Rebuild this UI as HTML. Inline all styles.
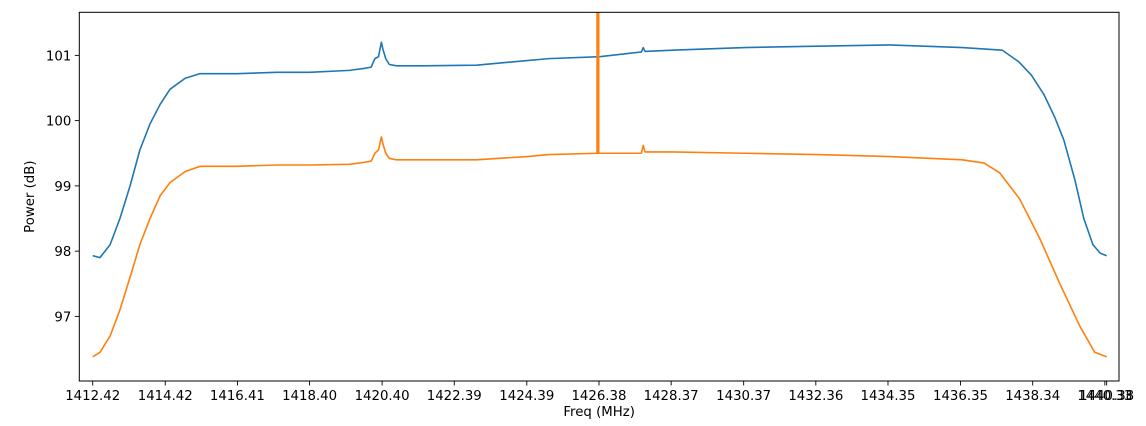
<!DOCTYPE html>
<html><head><meta charset="utf-8"><style>
body{margin:0;background:#fff;}
svg{display:block;font-family:"DejaVu Sans","Liberation Sans",sans-serif;}
</style></head><body>
<svg id="chart" width="1146" height="426" viewBox="0 0 1146 426">
<g id="plot"></g>
</svg>
<script>
const blueFreq=[1412.42,1412.62,1412.9,1413.17,1413.45,1413.72,1414.0,1414.28,1414.55,1414.97,1415.38,1416.4,1417.5,1418.4,1419.5,1419.9,1420.1,1420.2,1420.3,1420.38,1420.42,1420.5,1420.6,1420.8,1421.5,1423.0,1424.4,1425.0,1426.4,1427.5,1427.55,1427.6,1427.65,1428.4,1430.4,1432.4,1434.4,1436.4,1437.5,1437.96,1438.3,1438.65,1438.95,1439.2,1439.5,1439.75,1440.0,1440.2,1440.38];
const blueVals=[97.93,97.9,98.1,98.5,99.0,99.55,99.95,100.25,100.48,100.65,100.72,100.72,100.74,100.74,100.77,100.8,100.82,100.95,100.98,101.2,101.1,100.95,100.86,100.84,100.84,100.85,100.92,100.95,100.98,101.05,101.05,101.12,101.06,101.08,101.12,101.14,101.16,101.12,101.08,100.9,100.7,100.4,100.05,99.7,99.1,98.5,98.1,97.97,97.93];
const orangeFreq=[1412.42,1412.62,1412.9,1413.17,1413.45,1413.72,1414.0,1414.28,1414.55,1414.97,1415.38,1416.4,1417.5,1418.4,1419.5,1419.9,1420.1,1420.2,1420.3,1420.38,1420.42,1420.5,1420.6,1420.8,1421.5,1423.0,1424.4,1425.0,1426.35,1427.5,1427.55,1427.6,1427.65,1428.4,1430.4,1432.4,1434.4,1436.4,1437.0,1437.43,1437.98,1438.53,1439.09,1439.64,1440.05,1440.38];
const orangeVals=[96.38,96.45,96.7,97.1,97.6,98.1,98.5,98.85,99.05,99.22,99.3,99.3,99.32,99.32,99.33,99.36,99.38,99.5,99.55,99.75,99.65,99.5,99.42,99.4,99.4,99.4,99.45,99.48,99.5,99.5,99.5,99.62,99.52,99.52,99.5,99.48,99.45,99.4,99.35,99.2,98.8,98.2,97.5,96.85,96.45,96.38];
const spikeFreq=[1426.35];
const spikeLow=[99.5];
const spikeHigh=[102.5];
const xTickVals=[1412.42,1414.42,1416.41,1418.40,1420.40,1422.39,1424.39,1426.38,1428.37,1430.37,1432.36,1434.35,1436.35,1438.34,1440.33,1440.38];
const xTickLabels=["1412.42","1414.42","1416.41","1418.40","1420.40","1422.39","1424.39","1426.38","1428.37","1430.37","1432.36","1434.35","1436.35","1438.34","1440.33","1440.38"];
const yTickVals=[97,98,99,100,101];
const yTickLabels=["97","98","99","100","101"];

const L=79.3,R=1119,T=12.3,B=381;
const xMin=1412.05,xMax=1440.72,yMin=96.01,yMax=101.66;
const xs=v=>L+(v-xMin)/(xMax-xMin)*(R-L);
const ys=v=>B-(v-yMin)/(yMax-yMin)*(B-T);
const NS="http://www.w3.org/2000/svg";
const plot=document.getElementById('plot');
function mk(tag,attrs,parent){const e=document.createElementNS(NS,tag);for(const k in attrs)e.setAttribute(k,attrs[k]);(parent||plot).appendChild(e);return e;}

const defs=mk('defs',{});
const cp=mk('clipPath',{id:'clip'},defs);
mk('rect',{x:L,y:T,width:R-L,height:B-T},cp);
const g=mk('g',{'clip-path':'url(#clip)'});



function line(fr,vals,color,name){
  const pts=fr.map((f,i)=>xs(f).toFixed(2)+','+ys(vals[i]).toFixed(2)).join(' ');
  const p=mk('polyline',{points:pts,fill:'none',stroke:color,'stroke-width':1.6,'stroke-linejoin':'round'},g);
  
  
}
line(blueFreq,blueVals,'#1f77b4','blue-power-line');
line(orangeFreq,orangeVals,'#ff7f0e','orange-power-line');
spikeFreq.forEach((f,i)=>{
  const s=mk('line',{x1:xs(f),x2:xs(f),y1:ys(spikeLow[i]),y2:ys(spikeHigh[i]),stroke:'#ff7f0e','stroke-width':3.2},g);
  
  
});

const frame=mk('rect',{x:L,y:T,width:R-L,height:B-T,fill:'none',stroke:'#000','stroke-width':1});



xTickVals.forEach((v,i)=>{
  const x=xs(v);
  const t=mk('line',{x1:x,x2:x,y1:B,y2:B+4.5,stroke:'#000','stroke-width':0.9});
  
  
  const lb=mk('text',{x:x,y:B+19,'text-anchor':'middle','font-size':'13.3px',fill:'#000'});
  lb.textContent=xTickLabels[i];
  
  
});
yTickVals.forEach((v,i)=>{
  const y=ys(v);
  const t=mk('line',{x1:L-4.5,x2:L,y1:y,y2:y,stroke:'#000','stroke-width':0.9});
  
  
  const lb=mk('text',{x:L-8,y:y+5,'text-anchor':'end','font-size':'13.3px',fill:'#000'});
  lb.textContent=yTickLabels[i];
  
  
});
const xt=mk('text',{x:(L+R)/2,y:B+35,'text-anchor':'middle','font-size':'13.3px',fill:'#000'});
xt.textContent='Freq (MHz)';


const yt=mk('text',{x:0,y:0,'text-anchor':'middle','font-size':'13.3px',fill:'#000',transform:'translate(34,'+((T+B)/2)+') rotate(-90)'});
yt.textContent='Power (dB)';


</script>
</body></html>
